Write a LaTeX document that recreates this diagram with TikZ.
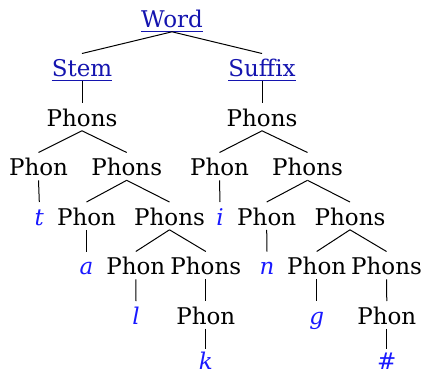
\documentclass[tikz,border=0pt]{standalone}
\usepackage{fontspec}
\setmainfont{DejaVu Serif}
\definecolor{linkc}{RGB}{20,20,175}
\definecolor{leafc}{RGB}{25,25,255}
\begin{document}
\begin{tikzpicture}[x=1bp,y=-1bp,
  every node/.style={anchor=base,inner sep=0pt,text height=22.8bp,text depth=4.6bp,
    font=\fontsize{23bp}{27bp}\selectfont},
  link/.style={text=linkc},
  leaf/.style={text=leafc,font=\fontsize{23bp}{27bp}\selectfont\itshape},
  lastleaf/.style={leaf,text depth=0pt,text height=20.5bp},
  edge/.style={line width=1bp},
  uline/.style={linkc,line width=0.9bp}]
\useasboundingbox (0,0) rectangle (424,375);
% rows
\def\rA{27}\def\rB{76.5}\def\rC{126}\def\rD{175.5}\def\rE{225}\def\rF{274.5}\def\rG{324}\def\rH{369.2}
\node[link] (word) at (172,\rA) {Word};
\node[link] (stem) at (82,\rB) {Stem};
\node[link] (suffix) at (262,\rB) {Suffix};
\node (ps1) at (82,\rC) {Phons};
\node (ps2) at (262,\rC) {Phons};
\node (p1) at (38.5,\rD) {Phon};
\node (ps3) at (126.7,\rD) {Phons};
\node (p2) at (219.5,\rD) {Phon};
\node (ps4) at (307.5,\rD) {Phons};
\node[leaf] (t) at (39.3,\rE) {t};
\node (p3) at (86.5,\rE) {Phon};
\node (ps5) at (169.5,\rE) {Phons};
\node[leaf] (i) at (220,\rE) {i};
\node (p4) at (266.7,\rE) {Phon};
\node (ps6) at (350,\rE) {Phons};
\node[leaf] (a) at (86.5,\rF) {a};
\node (p5) at (135.8,\rF) {Phon};
\node (ps7) at (205.8,\rF) {Phons};
\node[leaf] (n) at (267,\rF) {n};
\node (p6) at (316.7,\rF) {Phon};
\node (ps8) at (386.5,\rF) {Phons};
\node[leaf] (l) at (136,\rG) {l};
\node (p7) at (205.8,\rG) {Phon};
\node[leaf] (g) at (316.7,\rG) {g};
\node (p8) at (386.8,\rG) {Phon};
\node[lastleaf] (k) at (205.8,\rH) {k};
\node[lastleaf] (hash) at (386.8,\rH) {\#};
% underlines
\foreach \n in {word,stem,suffix}
  \draw[uline] ([yshift=-4.3bp]\n.base west) -- ([yshift=-4.3bp]\n.base east);
% edges
\draw[edge] (word.south) -- (stem.north);
\draw[edge] (word.south) -- (suffix.north);
\draw[edge] (stem.south) -- (ps1.north);
\draw[edge] (suffix.south) -- (ps2.north);
\draw[edge] (ps1.south) -- (p1.north);
\draw[edge] (ps1.south) -- (ps3.north);
\draw[edge] (ps2.south) -- (p2.north);
\draw[edge] (ps2.south) -- (ps4.north);
\draw[edge] (p1.south) -- (t.north);
\draw[edge] (ps3.south) -- (p3.north);
\draw[edge] (ps3.south) -- (ps5.north);
\draw[edge] (p2.south) -- (i.north);
\draw[edge] (ps4.south) -- (p4.north);
\draw[edge] (ps4.south) -- (ps6.north);
\draw[edge] (p3.south) -- (a.north);
\draw[edge] (ps5.south) -- (p5.north);
\draw[edge] (ps5.south) -- (ps7.north);
\draw[edge] (p4.south) -- (n.north);
\draw[edge] (ps6.south) -- (p6.north);
\draw[edge] (ps6.south) -- (ps8.north);
\draw[edge] (p5.south) -- (l.north);
\draw[edge] (ps7.south) -- (p7.north);
\draw[edge] (p6.south) -- (g.north);
\draw[edge] (ps8.south) -- (p8.north);
\draw[edge] (p7.south) -- (k.north);
\draw[edge] (p8.south) -- (hash.north);
\end{tikzpicture}
\end{document}
